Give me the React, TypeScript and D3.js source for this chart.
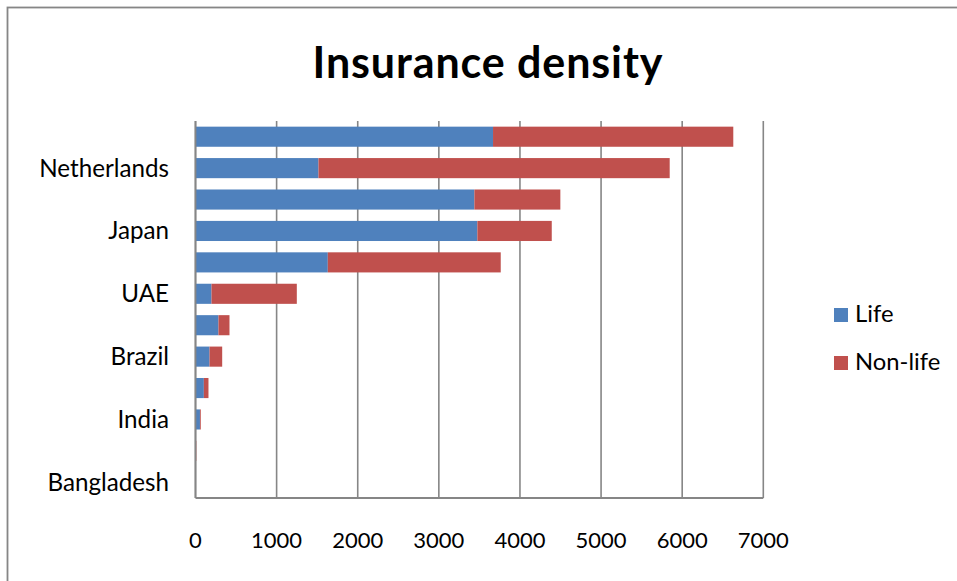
import React from "react";
import * as d3 from "d3";

// Categories listed from top to bottom of the chart
const countries = [
  "Switzerland",
  "Netherlands",
  "United Kingdom",
  "Japan",
  "United States",
  "UAE",
  "Malaysia",
  "Brazil",
  "China",
  "India",
  "Pakistan",
  "Bangladesh",
];
// Only every other category carries a visible label
const labelledCountries = ["Netherlands", "Japan", "UAE", "Brazil", "India", "Bangladesh"];

const lifeValues = [3668, 1516, 3438, 3475, 1631, 197, 283, 173, 103, 55, 4, 2];
const nonLifeValues = [2962, 4330, 1060, 917, 2132, 1052, 136, 156, 57, 10, 6, 3];

const xTicks = [0, 1000, 2000, 3000, 4000, 5000, 6000, 7000];

const seriesNames = ["Life", "Non-life"];
const seriesColors = ["#4F81BD", "#C0504D"];

const W = 957;
const H = 581;
const plot = { left: 195.5, right: 763.3, top: 121, bottom: 498 };
const FONT = "Lato, 'Open Sans', sans-serif";
const GRID = "#868686";

export default function App() {
  const x = d3.scaleLinear().domain([0, 7000]).range([plot.left, plot.right]);
  const y = d3
    .scaleBand<string>()
    .domain(countries)
    .range([plot.top, plot.bottom])
    .paddingInner(0.36)
    .paddingOuter(0.18);

  const rows = countries.map((c, i) => ({ country: c, life: lifeValues[i], nonLife: nonLifeValues[i] }));
  const stack = d3.stack<any>().keys(["life", "nonLife"])(rows);

  return (
    <svg
      width={W}
      height={H}
      style={{ position: "absolute", left: 0, top: 0, background: "#fff" }}
      fontFamily={FONT}
    >
      <rect x={0} y={0} width={W} height={H} fill="#fff" />
      {/* chart frame */}
      <rect x={7.5} y={7.5} width={W + 20} height={H + 20} fill="none" stroke={GRID} strokeWidth={1.8} />

      <text x={488} y={78} textAnchor="middle" fontSize={43} letterSpacing={0.9} fontWeight="bold" fill="#000">
        Insurance density
      </text>

      {/* vertical gridlines */}
      {xTicks.map((t) => (
        <line key={t} x1={x(t)} x2={x(t)} y1={plot.top} y2={plot.bottom} stroke={GRID} strokeWidth={1.6} />
      ))}

      {/* stacked bars */}
      {stack.map((layer, si) => (
        <g key={si} fill={seriesColors[si]}>
          {layer.map((d, i) => (
            <rect
              key={i}
              x={x(d[0])}
              y={y(countries[i])!}
              width={Math.max(0, x(d[1]) - x(d[0]))}
              height={y.bandwidth()}
            />
          ))}
        </g>
      ))}

      {/* axes */}
      <line x1={plot.left} x2={plot.left} y1={plot.top} y2={plot.bottom} stroke={GRID} strokeWidth={1.8} />
      <line x1={plot.left} x2={plot.right} y1={plot.bottom} y2={plot.bottom} stroke={GRID} strokeWidth={1.8} />

      {/* category labels */}
      {labelledCountries.map((c) => (
        <text
          key={c}
          x={169}
          y={y(c)! + y.bandwidth() / 2 + 8.5}
          textAnchor="end"
          fontSize={24.2}
          fill="#000"
        >
          {c}
        </text>
      ))}

      {/* value tick labels */}
      {xTicks.map((t) => (
        <text key={t} x={x(t)} y={548} textAnchor="middle" fontSize={22} fill="#000">
          {t}
        </text>
      ))}

      {/* legend */}
      {seriesNames.map((s, i) => (
        <g key={s} transform={`translate(834, ${308 + i * 48})`}>
          <rect x={0} y={0} width={14} height={14} fill={seriesColors[i]} />
          <text x={21} y={14} fontSize={23.8} fill="#000">
            {s}
          </text>
        </g>
      ))}
    </svg>
  );
}
